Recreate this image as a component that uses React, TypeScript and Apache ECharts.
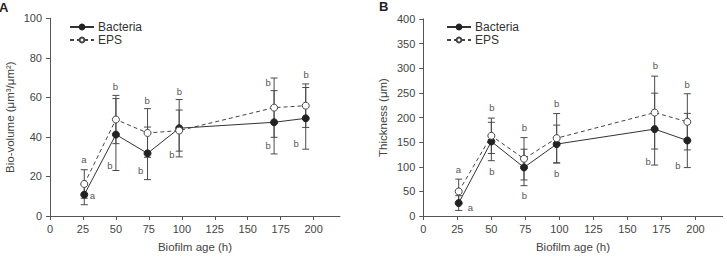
import React, { useEffect, useRef } from "react";
import * as echarts from "echarts";

// Sampling times (h)
const hours = [26, 50, 74, 98, 170, 194];

// Panel A: bio-volume (µm³/µm²), mean and SD
const bacteriaVolume = [10.8, 41.2, 31.7, 44.4, 47.4, 49.4];
const bacteriaVolumeSd = [5.1, 18.2, 13.3, 14.5, 16, 15.6];
const epsVolume = [16.2, 48.8, 42, 43.2, 54.8, 55.8];
const epsVolumeSd = [7.2, 12.2, 12.3, 10.4, 15, 11];

// Panel B: thickness (µm), mean and SD
const bacteriaThickness = [26.3, 151.3, 98.6, 146, 176.4, 153.3];
const bacteriaThicknessSd = [15, 39, 37, 38.5, 73, 55];
const epsThickness = [49.9, 162.8, 116.2, 158, 210, 191.2];
const epsThicknessSd = [25, 36, 43, 50, 74, 57];

// Significance letters: [hour, value, letter]
const lettersA: [number, number, string][] = [
  [26, 28.2, "a"], [32.6, 10.3, "a"],
  [50, 65.3, "b"], [45.8, 25.1, "b"],
  [74, 58.4, "b"], [69.1, 22.6, "b"],
  [98.5, 62.9, "b"], [92.9, 31, "b"],
  [165.8, 67.3, "b"], [165.8, 35.6, "b"],
  [194.7, 71.2, "b"], [187.2, 36.6, "b"],
];
const lettersB: [number, number, string][] = [
  [26.2, 93.9, "a"], [35, 15.4, "a"],
  [50.7, 219, "b"], [50.7, 89.2, "b"],
  [74.7, 178.4, "b"], [74.7, 39.7, "b"],
  [98.4, 227.6, "b"], [98.4, 85.1, "b"],
  [171, 304.7, "b"], [165.5, 110, "b"],
  [194.3, 266.8, "b"], [187.5, 102, "b"],
];

const FONT = "'Liberation Sans', Arial, Helvetica, sans-serif";
const INK = "#333";
const AXIS = "#555";
const TEXT = "#444";

const pairs = (xs: number[], ys: number[]) => xs.map((x, i) => [x, ys[i]]);
const bars = (xs: number[], ys: number[], sd: number[]) =>
  xs.map((x, i) => [x, ys[i] - sd[i], ys[i] + sd[i]]);

const errorBarItem = (_params: any, api: any) => {
  const x = api.value(0);
  const top = api.coord([x, api.value(2)]);
  const bot = api.coord([x, api.value(1)]);
  const hw = 3.5;
  const style = { stroke: "#4a4a4a", lineWidth: 1, fill: "none" };
  return {
    type: "group",
    children: [
      { type: "line", shape: { x1: top[0], y1: top[1], x2: bot[0], y2: bot[1] }, style },
      { type: "line", shape: { x1: top[0] - hw, y1: top[1], x2: top[0] + hw, y2: top[1] }, style },
      { type: "line", shape: { x1: bot[0] - hw, y1: bot[1], x2: bot[0] + hw, y2: bot[1] }, style },
    ],
  };
};

function panelSeries(
  idx: number,
  bact: number[],
  bactSd: number[],
  eps: number[],
  epsSd: number[],
  letters: [number, number, string][]
) {
  const axes = { xAxisIndex: idx, yAxisIndex: idx };
  return [
    {
      type: "custom",
      ...axes,
      renderItem: errorBarItem,
      encode: { x: 0, y: [1, 2] },
      data: bars(hours, eps, epsSd),
      z: 1,
      silent: true,
    },
    {
      type: "custom",
      ...axes,
      renderItem: errorBarItem,
      encode: { x: 0, y: [1, 2] },
      data: bars(hours, bact, bactSd),
      z: 1,
      silent: true,
    },
    {
      name: "Bacteria",
      type: "line",
      ...axes,
      data: pairs(hours, bact),
      symbol: "circle",
      symbolSize: 7,
      lineStyle: { color: INK, width: 1 },
      itemStyle: { color: "#222", borderColor: "#222", borderWidth: 1 },
      z: 3,
    },
    {
      name: "EPS",
      type: "line",
      ...axes,
      data: pairs(hours, eps),
      symbol: "circle",
      symbolSize: 7,
      lineStyle: { color: "#444", width: 1, type: [4, 3] },
      itemStyle: { color: "#fff", borderColor: "#444", borderWidth: 1 },
      z: 3,
    },
    {
      type: "scatter",
      ...axes,
      data: letters,
      symbolSize: 1,
      itemStyle: { color: "#555", opacity: 0 },
      silent: true,
      label: {
        show: true,
        position: [0, 0],
        align: "center",
        verticalAlign: "middle",
        formatter: (p: any) => p.data[2],
        color: "#555",
        opacity: 1,
        fontSize: 9.5,
        fontFamily: FONT,
      },
      z: 4,
    },
  ];
}

const xAxisFor = (idx: number) => ({
  type: "value",
  gridIndex: idx,
  min: 0,
  max: 220,
  interval: 25,
  name: "Biofilm age (h)",
  nameLocation: "middle",
  nameGap: 25,
  nameTextStyle: { color: TEXT, fontSize: 11.5, fontFamily: FONT },
  axisLine: { show: true, lineStyle: { color: AXIS, width: 1 } },
  axisTick: { show: true, length: 4, lineStyle: { color: AXIS } },
  axisLabel: { color: TEXT, fontSize: 11, fontFamily: FONT, margin: 7, showMaxLabel: false },
  splitLine: { show: false },
});

const yAxisFor = (idx: number, name: string, max: number, interval: number) => ({
  type: "value",
  gridIndex: idx,
  min: 0,
  max,
  interval,
  name,
  nameLocation: "middle",
  nameGap: 34,
  nameTextStyle: { color: TEXT, fontSize: 11.5, fontFamily: FONT },
  axisLine: { show: true, lineStyle: { color: AXIS, width: 1 } },
  axisTick: { show: true, length: 4, lineStyle: { color: AXIS } },
  axisLabel: { color: TEXT, fontSize: 11, fontFamily: FONT, margin: 8 },
  splitLine: { show: false },
});

const legendAt = (left: number) => ({
  orient: "vertical",
  left,
  top: 16,
  data: ["Bacteria", "EPS"],
  itemWidth: 24,
  itemHeight: 6,
  itemGap: 1,
  selectedMode: false,
  textStyle: { color: "#333", fontSize: 12, fontFamily: FONT, padding: [0, 0, 0, -1] },
});

export default function App() {
  const ref = useRef<HTMLDivElement>(null);

  useEffect(() => {
    if (!ref.current) return;
    const chart = echarts.init(ref.current, undefined, { renderer: "svg" });
    chart.setOption({
      animation: false,
      backgroundColor: "#fff",
      textStyle: { fontFamily: FONT },
      grid: [
        { left: 50, top: 18.3, width: 290, height: 198 },
        { left: 423.3, top: 19, width: 299.4, height: 197.3 },
      ],
      xAxis: [xAxisFor(0), xAxisFor(1)],
      yAxis: [
        yAxisFor(0, "Bio-volume (μm³/μm²)", 100, 20),
        yAxisFor(1, "Thickness (μm)", 400, 50),
      ],
      legend: [legendAt(64), legendAt(441)],
      graphic: [
        {
          type: "text",
          left: -1,
          top: 1,
          style: { text: "A", fill: "#222", font: `bold 13px ${FONT}` },
        },
        {
          type: "text",
          left: 379,
          top: 0,
          style: { text: "B", fill: "#222", font: `bold 13px ${FONT}` },
        },
      ],
      series: [
        ...panelSeries(0, bacteriaVolume, bacteriaVolumeSd, epsVolume, epsVolumeSd, lettersA),
        ...panelSeries(1, bacteriaThickness, bacteriaThicknessSd, epsThickness, epsThicknessSd, lettersB),
      ],
    });
    return () => chart.dispose();
  }, []);

  return (
    <div
      ref={ref}
      style={{ position: "fixed", left: 0, top: 0, width: 727, height: 258, background: "#fff" }}
    />
  );
}
